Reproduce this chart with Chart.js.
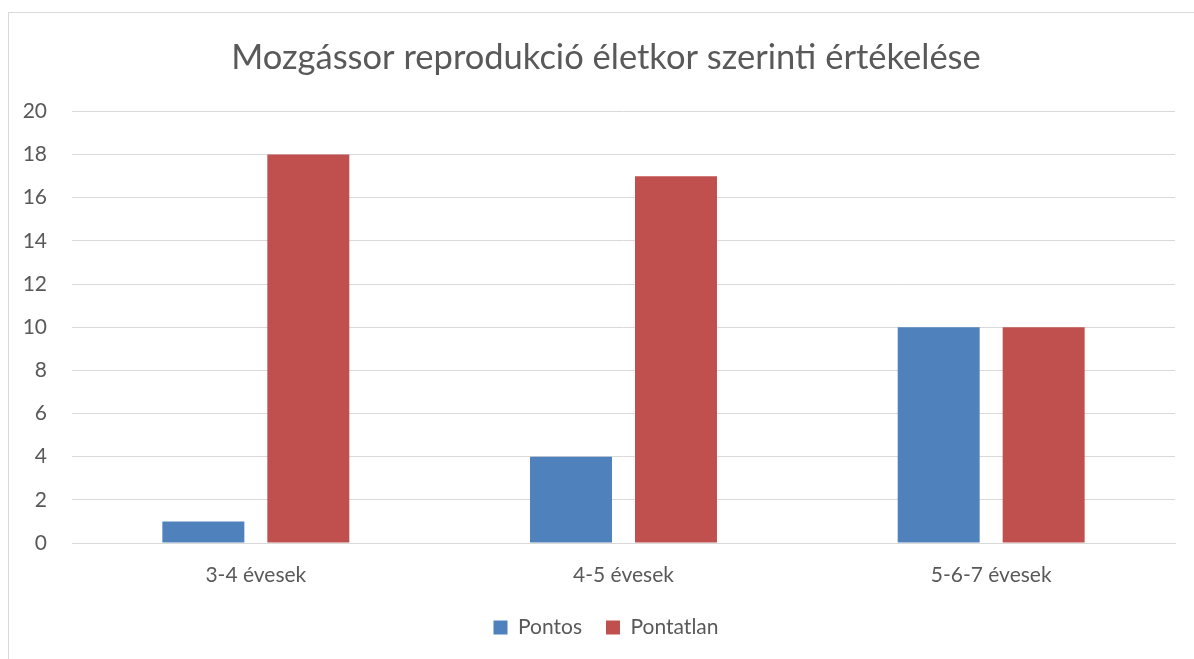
<!DOCTYPE html>
<html>
<head>
<meta charset="utf-8">
<script src="https://cdn.jsdelivr.net/npm/chart.js@4.4.1/dist/chart.umd.min.js"></script>
<style>
  html, body { margin: 0; padding: 0; background: #ffffff; overflow: hidden; }
  #wrap { position: absolute; left: 0; top: 0; width: 1194px; height: 659px; overflow: hidden; }
  #frame { position: absolute; left: 8px; top: 12px; width: 1300px; height: 800px; border: 1px solid #d9d9d9; pointer-events: none; }
</style>
</head>
<body>
<div id="wrap"><canvas id="c" width="1212" height="659"></canvas></div>
<div id="frame"></div>
<script>
const titleText = "Mozgássor reprodukció életkor szerinti értékelése";
const categories = ["3-4 évesek", "4-5 évesek", "5-6-7 évesek"];
const seriesNames = ["Pontos", "Pontatlan"];
const pontos = [1, 4, 10];
const pontatlan = [18, 17, 10];
const yTicks = [0, 2, 4, 6, 8, 10, 12, 14, 16, 18, 20];

const FONT = "Lato, 'Open Sans', sans-serif";
const GRAY = "#595959";

new Chart(document.getElementById("c"), {
  type: "bar",
  data: {
    labels: categories,
    datasets: [
      { label: seriesNames[0], data: pontos, backgroundColor: "#4f81bd", categoryPercentage: 0.571, barPercentage: 0.781 },
      { label: seriesNames[1], data: pontatlan, backgroundColor: "#c0504d", categoryPercentage: 0.571, barPercentage: 0.781 }
    ]
  },
  options: {
    responsive: false,
    animation: false,
    layout: { padding: { left: 0, right: 0, top: 0, bottom: 11 } },
    plugins: {
      title: {
        display: true,
        text: titleText,
        color: GRAY,
        font: { family: FONT, size: 34.5, weight: "normal" },
        padding: { top: 37, bottom: 33 }
      },
      legend: {
        position: "bottom",
        labels: {
          color: GRAY,
          font: { family: FONT, size: 21 },
          boxWidth: 14,
          boxHeight: 14,
          padding: 24
        }
      },
      tooltip: { enabled: false }
    },
    scales: {
      x: {
        afterFit: (s) => { s.height = 50; },
        grid: { display: false, drawTicks: false },
        border: { display: true, color: "#d9d9d9", width: 1 },
        ticks: { color: GRAY, font: { family: FONT, size: 21 }, padding: 20 }
      },
      y: {
        min: 0,
        max: 20,
        afterFit: (s) => { s.width = 72; },
        afterBuildTicks: (s) => { s.ticks = yTicks.map(v => ({ value: v })); },
        grid: { color: "#d9d9d9", lineWidth: 1, drawTicks: false },
        border: { display: false },
        ticks: { color: GRAY, font: { family: FONT, size: 21 }, padding: 25 }
      },
      yRight: {
        position: "right",
        display: true,
        afterFit: (s) => { s.width = 37; },
        grid: { display: false, drawTicks: false },
        border: { display: false },
        ticks: { display: false }
      }
    }
  }
});
</script>
</body>
</html>
